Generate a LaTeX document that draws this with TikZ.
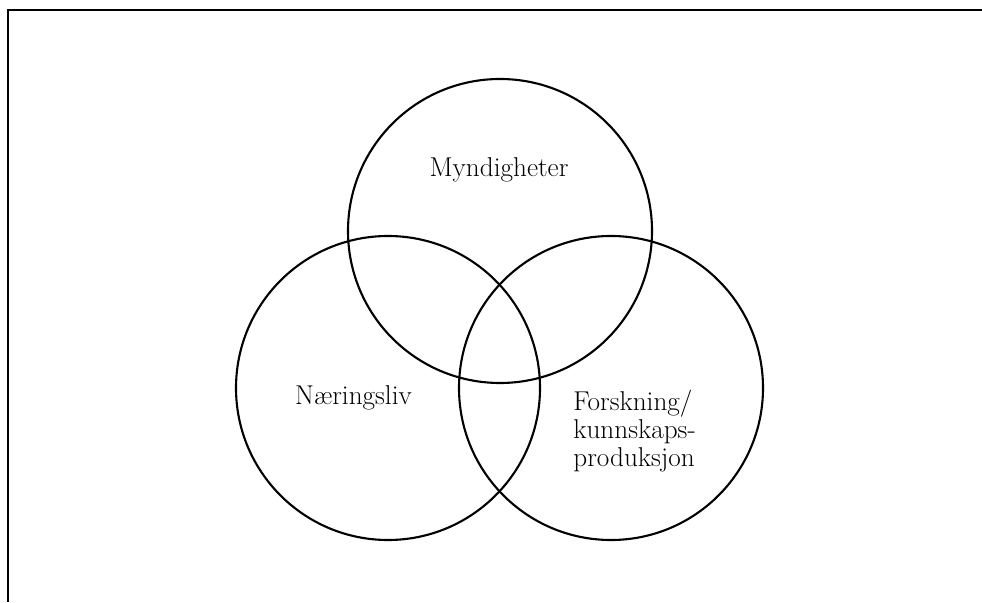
\documentclass[tikz,border=0pt]{standalone}
\begin{document}
\begin{tikzpicture}[
        ring/.style={circle,draw,line width=1.2pt,minimum size=6.08cm,
            inner sep=0pt},
        lbl/.style={inner sep=0pt,font=\fontsize{15.5}{16}\selectfont}]
    \useasboundingbox (0,0) rectangle (19.64,12.04);
    \draw[line width=0.7pt] (19.64,11.84) -- (0.16,11.84) -- (0.16,0);
    \node[ring] (gov) at (10,7.42) {};
    \node[ring] (biz) at (7.76,4.28) {};
    \node[ring] (res) at (12.22,4.28) {};
    \node[lbl,anchor=base] (govtxt) at (9.98,8.5) {Myndigheter};
    \node[lbl,anchor=base] (biztxt) at (7.07,3.94) {N\ae ringsliv};
    \node[lbl,anchor=west,align=left] (restxt) at (11.46,3.42)
        {Forskning/\\kunnskaps-\\produksjon};
\end{tikzpicture}
\end{document}
